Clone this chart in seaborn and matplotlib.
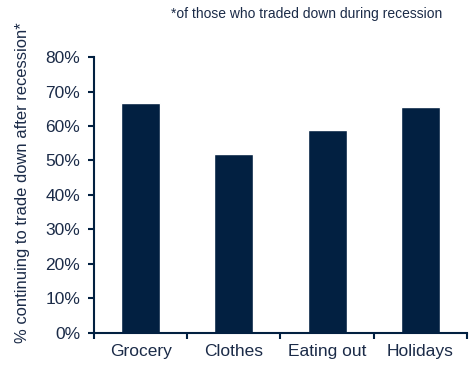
import matplotlib
matplotlib.use("Agg")
import matplotlib.pyplot as plt
import seaborn as sns
import pandas as pd
from matplotlib.ticker import FixedLocator, PercentFormatter

categories = ["Grocery", "Clothes", "Eating out", "Holidays"]
values = [66.8, 52.0, 58.9, 65.6]
y_ticks = [0, 10, 20, 30, 40, 50, 60, 70, 80]

sns.set_theme(style="white")
plt.rcParams["font.family"] = ["Liberation Sans", "DejaVu Sans"]

navy = "#022041"
text_c = "#1b2b48"

df = pd.DataFrame({"category": categories, "value": values})

fig = plt.figure(figsize=(4.75, 3.88), dpi=100)
ax = fig.add_axes([0.198, 0.142, 0.785, 0.711])
sns.barplot(data=df, x="category", y="value", color=navy, saturation=1,
            width=0.42, ax=ax)

ax.set_xlim(-0.5, len(categories) - 0.5)
ax.set_ylim(0, 80)
ax.set_yticks(y_ticks)
ax.yaxis.set_major_formatter(PercentFormatter(decimals=0))
ax.xaxis.set_minor_locator(FixedLocator([i - 0.5 for i in range(len(categories) + 1)]))
ax.tick_params(axis="x", which="major", length=0, pad=8, labelsize=12.5, labelcolor=text_c)
ax.tick_params(axis="x", which="minor", length=4, width=1.5, color=navy, direction="out", bottom=True)
ax.tick_params(axis="y", which="major", length=4, width=1.5, color=navy, direction="out",
               left=True, pad=6, labelsize=12.5, labelcolor=text_c)

for s in ["top", "right"]:
    ax.spines[s].set_visible(False)
for s in ["left", "bottom"]:
    ax.spines[s].set_color(navy)
    ax.spines[s].set_linewidth(1.5)

ax.set_xlabel("")
ax.set_ylabel("% continuing to trade down after recession*", fontsize=11.9, color=text_c)
ax.yaxis.set_label_coords(-0.172, 0.545)
fig.text(0.932, 0.963, "*of those who traded down during recession", ha="right", va="center",
         fontsize=10, color=text_c)

fig.savefig("out.png", dpi=100)
